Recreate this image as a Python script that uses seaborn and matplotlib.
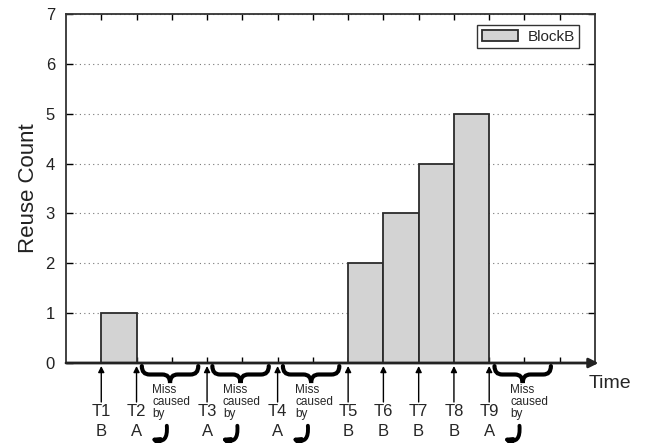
import matplotlib
matplotlib.use("Agg")
import matplotlib.pyplot as plt
import matplotlib.transforms as mtransforms
from matplotlib.path import Path
from matplotlib.patches import PathPatch, FancyArrowPatch
import seaborn as sns

# chart data
bar_starts = [1, 8, 9, 10, 11]
reuse_counts = [1, 2, 3, 4, 5]
event_times = [1, 2, 4, 6, 8, 9, 10, 11, 12]
event_names = ["T1", "T2", "T3", "T4", "T5", "T6", "T7", "T8", "T9"]
event_blocks = ["B", "A", "A", "A", "B", "B", "B", "B", "A"]
miss_after = [2, 4, 6, 12]  # misses that follow these events
miss_text_x = [2.45, 4.45, 6.5, 12.6]

sns.set_theme(style="white")
plt.rcParams["font.family"] = ["Liberation Sans", "DejaVu Sans"]

W, H = 659, 443
fig = plt.figure(figsize=(W / 100, H / 100), dpi=100)
ax = fig.add_axes([66 / W, 1 - 363 / H, (595 - 66) / W, (363 - 14) / H])

centers = [s + 0.5 for s in bar_starts]
sns.barplot(x=centers, y=reuse_counts, native_scale=True, width=1,
            color="#d3d3d3", saturation=1, edgecolor="#2b2b2b",
            linewidth=1.3, errorbar=None, label="BlockB", ax=ax, zorder=3)

ax.set_xlim(0, 15)
ax.set_ylim(0, 7)
ax.set_xticks(range(1, 15))
ax.set_xticklabels([])
ax.set_yticks(range(0, 8))
ax.tick_params(axis="y", direction="in", length=5, width=1, labelsize=12,
               right=True, left=True, pad=8, colors="black")
ax.tick_params(axis="x", direction="in", length=4, width=1, top=True,
               bottom=True, colors="black")
for lbl in ax.get_yticklabels():
    lbl.set_color("#222222")

ax.yaxis.grid(True, linestyle=(0, (1, 3)), color="#777777", linewidth=0.8)
ax.xaxis.grid(False)
ax.set_axisbelow(True)
for side in ["left", "right", "top"]:
    ax.spines[side].set_color("#333333")
    ax.spines[side].set_linewidth(1.3)
ax.spines["bottom"].set_visible(False)

ax.set_ylabel("Reuse Count", fontsize=16, labelpad=5, color="#222222")
ax.set_xlabel("")

leg = ax.legend(loc="upper right", fontsize=11, frameon=True, fancybox=False,
                handlelength=2.4, handleheight=0.8, borderpad=0.3,
                handletextpad=0.6, bbox_to_anchor=(0.985, 0.99))
leg.get_frame().set_edgecolor("black")
leg.get_frame().set_linewidth(1)

# x axis drawn as an arrow
ax.annotate("", xy=(15.1, 0), xytext=(0, 0), xycoords="data",
            arrowprops=dict(arrowstyle="-|>", lw=2, color="#222222",
                            mutation_scale=14, shrinkA=0, shrinkB=0),
            annotation_clip=False, zorder=5)

trans = mtransforms.blended_transform_factory(ax.transData, fig.transFigure)


def fy(p):
    return 1 - p / H


for t, name, blk in zip(event_times, event_names, event_blocks):
    ax.annotate("", xy=(t, fy(366)), xytext=(t, fy(402)), xycoords=trans,
                textcoords=trans,
                arrowprops=dict(arrowstyle="-|>", lw=1, color="black",
                                mutation_scale=9, shrinkA=0, shrinkB=0),
                annotation_clip=False)
    ax.text(t, fy(411), name, transform=trans, ha="center", va="center",
            fontsize=12, clip_on=False)
    ax.text(t, fy(431), blk, transform=trans, ha="center", va="center",
            fontsize=12, clip_on=False)


def brace(x0, x1, ytop, depth):
    xm = (x0 + x1) / 2
    q = 0.22
    ymid = ytop - depth / 2
    ybot = ytop - depth
    verts = [(x0, ytop), (x0, ymid), (x0 + q, ymid),
             (xm - q, ymid),
             (xm, ymid), (xm, ybot),
             (xm, ymid), (xm + q, ymid),
             (x1 - q, ymid),
             (x1, ymid), (x1, ytop)]
    codes = [Path.MOVETO, Path.CURVE3, Path.CURVE3,
             Path.LINETO,
             Path.CURVE3, Path.CURVE3,
             Path.CURVE3, Path.CURVE3,
             Path.LINETO,
             Path.CURVE3, Path.CURVE3]
    ax.add_patch(PathPatch(Path(verts, codes), transform=trans, fill=False,
                           lw=3, color="black", clip_on=False,
                           capstyle="round"))


for t, mx in zip(miss_after, miss_text_x):
    brace(t + 0.15, t + 1.75, fy(366), 17 / H)
    ax.text(mx, fy(384), "Miss\ncaused\nby", transform=trans, ha="left",
            va="top", fontsize=8.5, linespacing=1.0, clip_on=False)
    curl = FancyArrowPatch((t + 0.85, fy(423)), (t + 0.32, fy(437)),
                           transform=trans, connectionstyle="arc3,rad=-0.9",
                           arrowstyle="-|>", mutation_scale=10, lw=2.8,
                           color="black", clip_on=False)
    ax.add_patch(curl)

fig.text(589 / W, fy(384), "Time", ha="left", va="center", fontsize=14)

fig.savefig("out.png", dpi=100)
